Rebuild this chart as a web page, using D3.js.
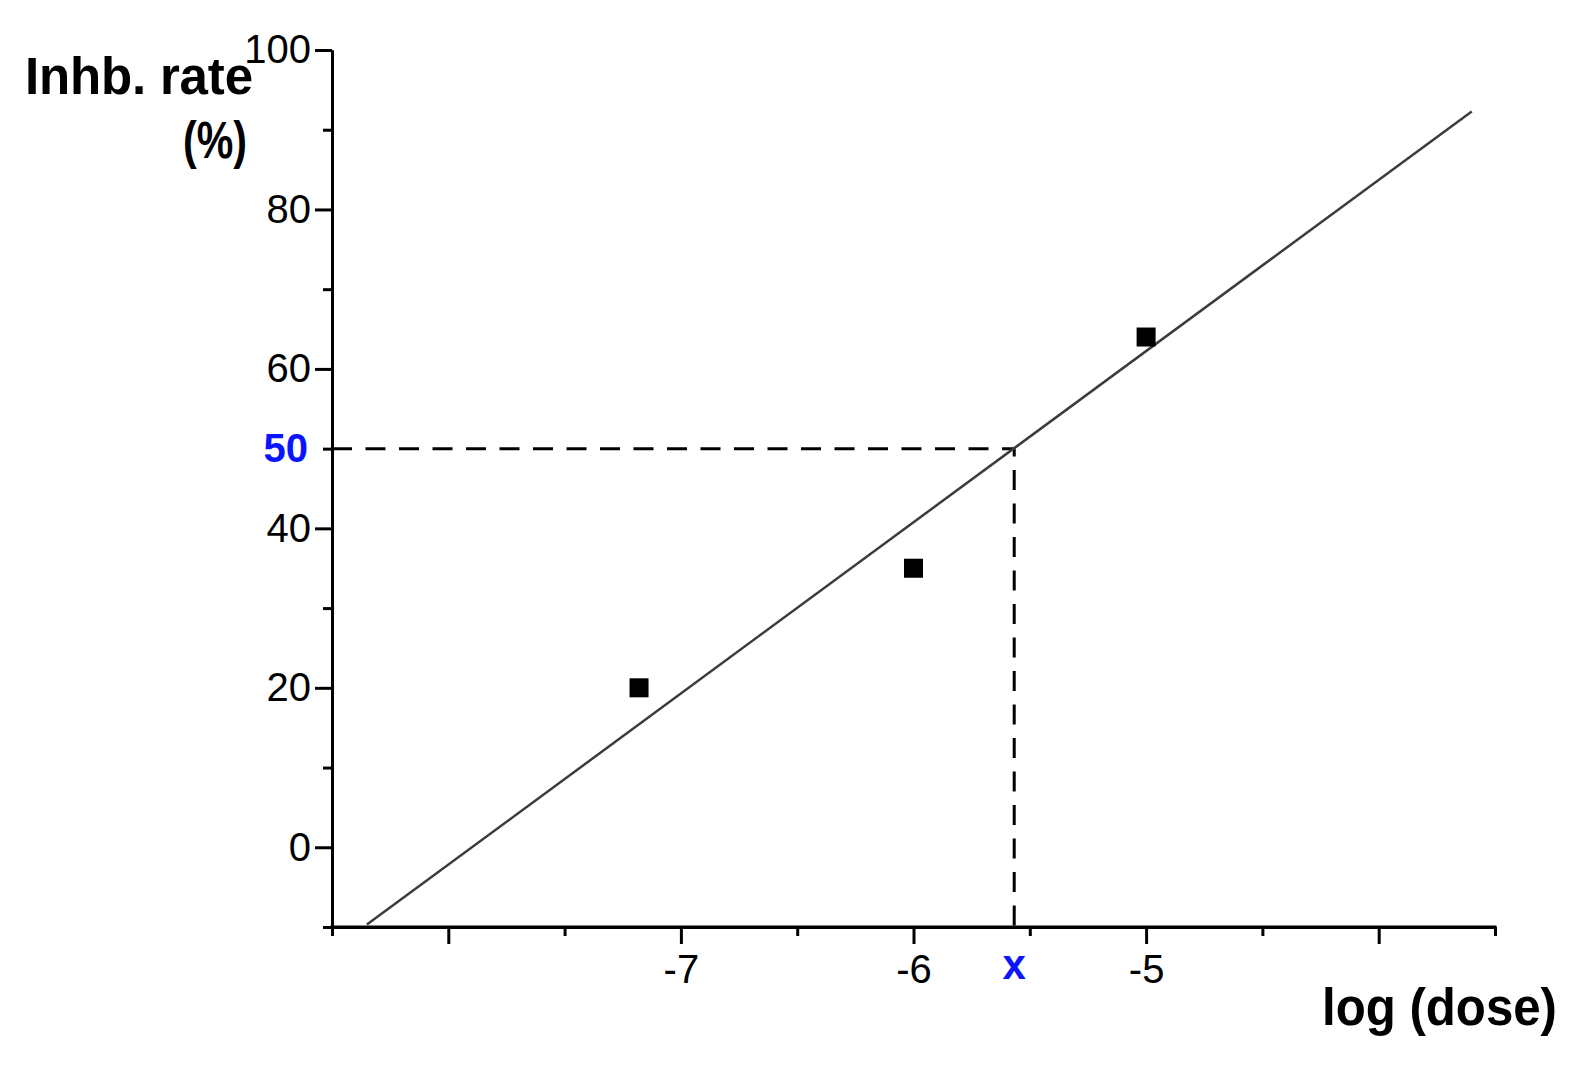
<!DOCTYPE html>
<html>
<head>
<meta charset="utf-8">
<script src="https://cdn.jsdelivr.net/npm/d3@7"></script>
<style>
  body { margin: 0; background: #fff; }
  text { font-family: "Liberation Sans", Arial, sans-serif; }
</style>
</head>
<body>
<script>
// measured points (log dose vs inhibition rate %)
var doseLog = [-7.18, -6.0, -5.0];
var inhibition = [20, 35, 64];

var fitX = [-8.35, -3.6];
var fitY = [-9.7, 92.3];

// 50% crossing
var ic50X = -5.567;
var ic50Y = 50;

var xMajorTicks = [-8, -7, -6, -5, -4];
var xMinorTicks = [-8.5, -7.5, -6.5, -5.5, -4.5, -3.5];
var xTickLabels = [-7, -6, -5];
var yMajorTicks = [0, 20, 40, 60, 80, 100];
var yMinorTicks = [-10, 10, 30, 50, 70, 90];
var yTickLabels = [0, 20, 40, 60, 80, 100];

var width = 1583, height = 1066;

var x = d3.scaleLinear().domain([-8.5, -3.5]).range([332, 1495]);
var y = d3.scaleLinear().domain([-10, 100]).range([927, 50]);

var svg = d3.select('body')
  .append('svg')
  .attr('width', width)
  .attr('height', height)
  .style('background', '#fff');

var font = '"Liberation Sans", Arial, sans-serif';

// x axis: minor ticks first, then majors with labels
var xMinor = d3.axisBottom(x).tickValues(xMinorTicks).tickSize(9).tickSizeOuter(0).tickFormat('');
var xMajor = d3.axisBottom(x).tickValues(xMajorTicks).tickSize(17).tickSizeOuter(0).tickPadding(11)
  .tickFormat(function(d) { return xTickLabels.indexOf(d) >= 0 ? d : ''; });

svg.append('g')
  .attr('transform', 'translate(0,' + y(-10) + ')')
  .call(xMinor);
svg.append('g')
  .attr('class', 'x axis')
  .attr('transform', 'translate(0,' + y(-10) + ')')
  .call(xMajor);

// y axis
var yMinor = d3.axisLeft(y).tickValues(yMinorTicks).tickSize(9).tickSizeOuter(0).tickFormat('');
var yMajor = d3.axisLeft(y).tickValues(yMajorTicks).tickSize(17).tickSizeOuter(0).tickPadding(4)
  .tickFormat(function(d) { return yTickLabels.indexOf(d) >= 0 ? d : ''; });

svg.append('g')
  .attr('transform', 'translate(' + x(-8.5) + ',0)')
  .call(yMinor);
svg.append('g')
  .attr('class', 'y axis')
  .attr('transform', 'translate(' + x(-8.5) + ',0)')
  .call(yMajor);

svg.selectAll('.domain, .tick line')
  .attr('stroke', '#000')
  .attr('stroke-width', 3);
svg.selectAll('.tick text')
  .attr('font-family', font)
  .attr('font-size', 40)
  .attr('fill', '#000');
svg.selectAll('g').attr('font-family', font);

// extend the domain lines a little so the corners meet
svg.append('line')
  .attr('x1', x(-8.5) - 1.5).attr('x2', x(-3.5) + 1.5)
  .attr('y1', y(-10)).attr('y2', y(-10))
  .attr('stroke', '#000').attr('stroke-width', 3);

// dashed guide at 50%
svg.append('path')
  .attr('d', 'M' + x(-8.5) + ',' + y(ic50Y) + 'H' + x(ic50X) + 'V' + y(-10))
  .attr('fill', 'none')
  .attr('stroke', '#000')
  .attr('stroke-width', 3)
  .attr('stroke-dasharray', '20,13.5');

// fitted line
var line = d3.line()
  .x(function(d) { return x(d[0]); })
  .y(function(d) { return y(d[1]); });

svg.append('path')
  .datum(d3.zip(fitX, fitY))
  .attr('d', line)
  .attr('fill', 'none')
  .attr('stroke', '#3c3c3c')
  .attr('stroke-width', 2.5);

// data points as squares
var s = 19;
svg.selectAll('rect.pt')
  .data(d3.zip(doseLog, inhibition))
  .enter()
  .append('rect')
  .attr('class', 'pt')
  .attr('x', function(d) { return x(d[0]) - s / 2; })
  .attr('y', function(d) { return y(d[1]) - s / 2; })
  .attr('width', s)
  .attr('height', s)
  .attr('fill', '#000');

// blue markers for the 50% value and its x
svg.append('text')
  .attr('x', x(-8.5) - 24)
  .attr('y', y(ic50Y) + 13)
  .attr('text-anchor', 'end')
  .attr('font-family', font)
  .attr('font-weight', 'bold')
  .attr('font-size', 40)
  .attr('fill', '#0a14ff')
  .text('50');

svg.append('text')
  .attr('x', x(ic50X))
  .attr('y', 979)
  .attr('text-anchor', 'middle')
  .attr('font-family', font)
  .attr('font-weight', 'bold')
  .attr('font-size', 42)
  .attr('fill', '#0a14ff')
  .text('x');

// axis titles
svg.append('text')
  .attr('x', 25).attr('y', 94)
  .attr('font-family', font)
  .attr('font-weight', 'bold')
  .attr('font-size', 51)
  .attr('textLength', 228)
  .text('Inhb. rate');

svg.append('text')
  .attr('x', 183).attr('y', 158)
  .attr('font-family', font)
  .attr('font-weight', 'bold')
  .attr('font-size', 51)
  .attr('textLength', 64)
  .attr('lengthAdjust', 'spacingAndGlyphs')
  .text('(%)');

svg.append('text')
  .attr('x', 1322).attr('y', 1025)
  .attr('font-family', font)
  .attr('font-weight', 'bold')
  .attr('font-size', 51)
  .attr('textLength', 235)
  .attr('lengthAdjust', 'spacingAndGlyphs')
  .text('log (dose)');
</script>
</body>
</html>
